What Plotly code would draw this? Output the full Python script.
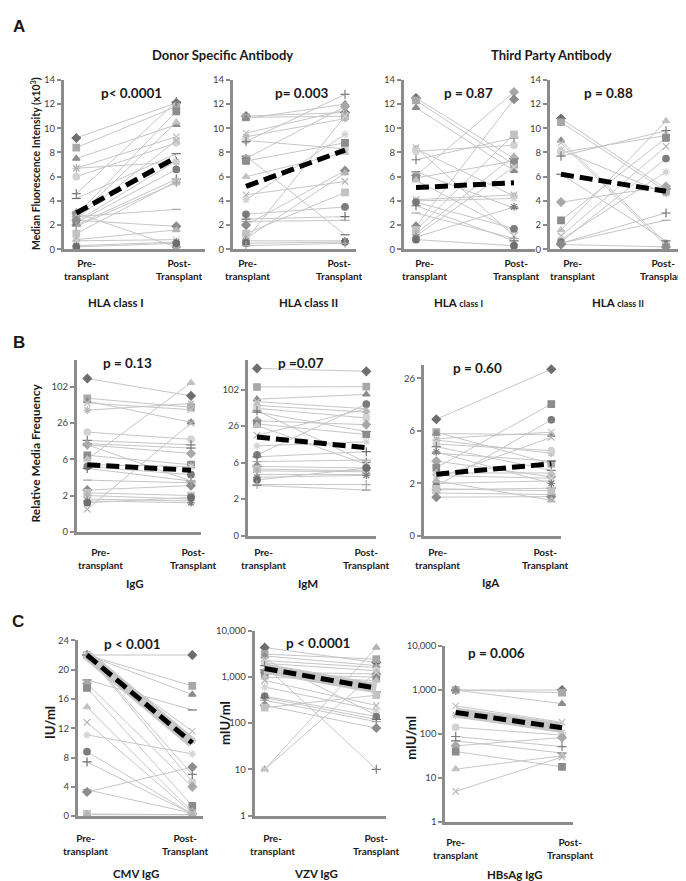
import numpy as np
import plotly.graph_objects as go

W, H = 686, 881

# ---------------- A: median fluorescence intensity (x10^3) ----------------
dsa1_pre = [9.2, 8.4, 7.5, 6.7, 6.7, 6.0, 4.6, 4.2, 3.0, 2.8, 2.6, 2.5, 2.3, 2.2, 2.0, 2.7, 2.4, 1.3, 0.8, 0.7, 0.3, 0.2, 1.9]
dsa1_post = [12.1, 11.8, 10.3, 9.3, 7.2, 8.8, 12.2, 7.9, 0.2, 11.4, 10.5, 9.0, 7.3, 6.6, 5.8, 3.3, 1.9, 5.6, 1.6, 0.8, 0.6, 0.5, 5.5]
dsa1_mean = [3.0, 7.6]

dsa2_pre = [11.0, 10.9, 10.8, 9.6, 9.3, 9.0, 8.9, 7.7, 7.5, 7.3, 6.0, 4.5, 4.1, 2.9, 2.5, 2.3, 2.0, 1.3, 0.9, 0.8, 0.7, 0.5, 0.3]
dsa2_post = [11.3, 11.0, 12.0, 11.5, 10.8, 8.3, 12.8, 1.2, 11.8, 8.8, 8.0, 5.6, 9.5, 3.5, 2.7, 2.4, 6.5, 4.7, 6.3, 11.0, 0.7, 0.6, 0.5]
dsa2_mean = [5.2, 8.2]

tpa1_pre = [12.5, 12.3, 11.7, 8.4, 8.3, 8.1, 7.4, 6.4, 6.1, 5.9, 5.7, 4.1, 4.0, 3.9, 3.6, 3.0, 1.9, 1.6, 1.3, 1.1, 1.0, 0.8]
tpa1_post = [7.5, 7.0, 6.5, 1.1, 4.4, 8.6, 9.2, 3.4, 13.0, 7.3, 1.5, 4.5, 4.2, 1.7, 0.7, 0.9, 12.4, 9.5, 7.7, 6.8, 3.5, 0.3]
tpa1_mean = [5.1, 5.5]

tpa2_pre = [10.8, 10.5, 9.0, 8.8, 8.2, 8.0, 7.7, 6.2, 3.9, 2.4, 1.6, 1.1, 0.8, 0.6, 0.5, 0.5, 0.4]
tpa2_post = [5.0, 4.8, 0.5, 0.3, 4.6, 9.4, 9.8, 0.7, 5.2, 9.2, 10.6, 8.5, 6.4, 7.5, 3.0, 2.4, 0.2]
tpa2_mean = [6.2, 4.8]

# ---------------- B: relative media frequency ----------------
b_tick_values = [0, 2, 6, 26, 102]
b_scale = [0, 2, 6, 26, 102, 400]   # equally spaced on the axis

igg_pre = [170, 78, 72, 68, 53, 21, 16.4, 14.6, 14, 8.2, 6, 1.24, 5.4, 5.2, 5.0, 3.7, 2.6, 2.3, 2.0, 1.8, 1.7, 1.6, 14]
igg_post = [83, 59, 27.5, 54, 67, 17, 14, 12.2, 9.2, 5.4, 135, 26, 5.2, 4.3, 3.6, 3.4, 3.1, 2.0, 1.8, 1.7, 1.6, 1.9, 3.6]
igg_mean = [5.4, 4.8]

igm_pre = [275, 123, 82, 77, 69, 63, 58, 55, 37, 30.6, 27.5, 21, 15.2, 10.2, 9.2, 6.6, 5.6, 5.3, 5.1, 4.7, 4.4, 4.1, 3.6, 3.5]
igm_post = [251, 126, 92, 62, 55, 43, 6.2, 23, 29, 21.4, 5.8, 62, 17.4, 72, 12, 7.4, 5.4, 5.1, 5.0, 4.7, 4.6, 5.4, 3.6, 3.0]
igm_mean = [20, 14.2]

iga_pre = [10.4, 5.9, 5.8, 5.4, 5.3, 5.0, 4.8, 4.3, 3.7, 3.2, 2.8, 2.4, 2.0, 1.9, 1.76, 1.64, 1.48, 1.8, 2.2, 2.6, 4.4]
iga_post = [39, 3.5, 5.7, 5.9, 4.3, 4.5, 3.0, 3.7, 2.5, 16.2, 2.8, 5.5, 2.2, 10.2, 1.82, 1.58, 1.5, 1.72, 1.36, 2.4, 2.0]
iga_mean = [2.7, 3.5]

# ---------------- C: vaccine titres ----------------
cmv_pre = [22.0, 22.0, 22.0, 22.0, 22.0, 22.0, 22.0, 18.6, 18.1, 17.5, 14.9, 12.8, 11.1, 8.8, 7.4, 3.6, 3.3, 0.3, 0.2]
cmv_post = [22.0, 17.8, 16.6, 11.6, 10.3, 4.7, 5.7, 14.5, 4.0, 1.4, 0.6, 0.4, 8.5, 0.3, 0.3, 0.4, 6.7, 0.2, 0.2]
cmv_mean = [22.0, 10.0]

vzv_pre = [4270, 3090, 2820, 2400, 2240, 1950, 1740, 1410, 1260, 1150, 980, 830, 600, 380, 355, 310, 240, 215, 10, 10]
vzv_post = [2040, 2400, 1740, 148, 1580, 1350, 10, 470, 1150, 980, 830, 240, 190, 138, 120, 107, 78, 400, 4270, 1260]
vzv_mean = [1510, 565]

hbs_pre = [1000, 1000, 1000, 436, 270, 142, 88, 70, 54, 40, 16, 5]
hbs_post = [1000, 870, 490, 185, 108, 95, 52, 37, 83, 18, 32, 30]
hbs_mean = [309, 139]

pre_lbl = "Pre-<br>transplant"
post_lbl = "Post-<br>Transplant"


def to_level(v):
    return np.interp(v, b_scale, range(len(b_scale)))


# x px: axis left, pre point, post point, axis right ; y px: top, bottom
panels = [
    dict(pre=dsa1_pre, post=dsa1_post, mean=dsa1_mean, kind="lin", yr=[0, 14], dt=2,
         xp=(56, 68.3, 168.3, 197), yp=(66.7, 238.3), lab=(78, 171, 244),
         title=("HLA class I", 108, 292), p=("p< 0.0001", 123, 80)),
    dict(pre=dsa2_pre, post=dsa2_post, mean=dsa2_mean, kind="lin", yr=[0, 14], dt=2,
         xp=(225, 238, 337, 348), yp=(66.7, 238.3), lab=(239, 331, 244),
         title=("HLA class II", 300, 292), p=("p= 0.003", 293, 80)),
    dict(pre=tpa1_pre, post=tpa1_post, mean=tpa1_mean, kind="lin", yr=[0, 14], dt=2,
         xp=(396, 408, 506, 527), yp=(66.7, 238.3), lab=(416, 508, 244),
         title=("HLA <span style='font-size:9px'>class I</span>", 450, 292), p=("p = 0.87", 460, 80)),
    dict(pre=tpa2_pre, post=tpa2_post, mean=tpa2_mean, kind="lin", yr=[0, 14], dt=2,
         xp=(542, 553, 658, 675), yp=(66.7, 238.3), lab=(564, 655, 244),
         title=("HLA <span style='font-size:9px'>class II</span>", 610, 292), p=("p = 0.88", 600, 80)),
    dict(pre=igg_pre, post=igg_post, mean=igg_mean, kind="lvl", yr=[0, 4.75],
         xp=(69, 79.3, 183, 193), yp=(350, 524.3), lab=(92, 185, 537),
         title=("IgG", 127, 577), p=("p = 0.13", 119, 353)),
    dict(pre=igm_pre, post=igm_post, mean=igm_mean, kind="lvl", yr=[0, 4.82],
         xp=(240, 249, 358.3, 368), yp=(350, 528.3), lab=(255, 358, 537),
         title=("IgM", 300, 577), p=("p =0.07", 293, 353)),
    dict(pre=iga_pre, post=iga_post, mean=iga_mean, kind="lvl", yr=[0, 3.26],
         xp=(416, 428.3, 543.3, 553), yp=(355, 528.7), lab=(430, 537, 537),
         title=("IgA", 483, 576), p=("p = 0.60", 469, 358)),
    dict(pre=cmv_pre, post=cmv_post, mean=cmv_mean, kind="lin", yr=[0, 24], dt=4,
         xp=(70, 79, 184.3, 195), yp=(634.3, 812.3), lab=(77, 177, 826),
         title=("CMV IgG", 128, 870), p=("p < 0.001", 125, 638), halo=True),
    dict(pre=vzv_pre, post=vzv_post, mean=vzv_mean, kind="log", yr=[0, 4],
         xp=(246.7, 256.7, 368.3, 378), yp=(624.3, 811.7), lab=(264, 368, 826),
         title=("VZV IgG", 308, 870), p=("p < 0.0001", 310, 637), halo=True),
    dict(pre=hbs_pre, post=hbs_post, mean=hbs_mean, kind="log", yr=[0, 4],
         xp=(437.3, 447.7, 554, 565), yp=(640, 818.3), lab=(448, 562, 830),
         title=("HBsAg IgG", 507, 871), p=("p = 0.006", 488, 647), halo=True),
]

symbols = ["diamond", "square", "triangle-up", "x-thin-open", "asterisk-open",
           "circle", "cross-thin-open", "line-ew-open"]
greys = ["#6e6e6e", "#a8a8a8", "#8c8c8c", "#c2c2c2", "#b4b4b4", "#d2d2d2", "#7c7c7c"]

FONT = "Lato, 'Open Sans', sans-serif"
AX = "#8c8c8c"

fig = go.Figure()
annotations = []


def ann(text, x, y, size, angle=0, family=FONT):
    annotations.append(dict(text=text, x=x / W, y=1 - y / H, xref="paper", yref="paper",
                            showarrow=False, textangle=angle, xanchor="center", yanchor="middle",
                            font=dict(family=family, size=size, color="#1a1a1a")))


for i, pn in enumerate(panels, start=1):
    xa, ya = ("x", "y") if i == 1 else (f"x{i}", f"y{i}")
    xl, xpre, xpost, xr = pn["xp"]
    yt, yb = pn["yp"]
    span = xpost - xpre
    xrange = [(xl - xpre) / span, (xr - xpre) / span]

    def tf(v):
        return list(to_level(np.array(v))) if pn["kind"] == "lvl" else list(v)

    for j, (a, b) in enumerate(zip(pn["pre"], pn["post"])):
        c = greys[j % len(greys)]
        fig.add_trace(go.Scatter(
            x=[0, 1], y=tf([a, b]), mode="lines+markers", xaxis=xa, yaxis=ya,
            line=dict(color="#c6c6c6", width=1), cliponaxis=False,
            marker=dict(symbol=symbols[j % len(symbols)], size=6.5, color=c,
                        line=dict(color=c, width=1.2)),
            showlegend=False, hoverinfo="skip"))
    if pn.get("halo"):
        fig.add_trace(go.Scatter(x=[0, 1], y=tf(pn["mean"]), mode="lines", xaxis=xa, yaxis=ya,
                                 line=dict(color="#c8c8c8", width=10), showlegend=False))
    fig.add_trace(go.Scatter(x=[0, 1], y=tf(pn["mean"]), mode="lines", xaxis=xa, yaxis=ya,
                             line=dict(color="black", width=5, dash="13px,6px"), showlegend=False))

    xkey = "xaxis" if i == 1 else f"xaxis{i}"
    ykey = "yaxis" if i == 1 else f"yaxis{i}"
    fig.layout[xkey] = dict(domain=[xl / W, xr / W], range=xrange, anchor=ya,
                            showgrid=False, zeroline=False, showticklabels=False, ticks="",
                            showline=True, linecolor=AX, linewidth=3, fixedrange=True)
    yax = dict(domain=[1 - yb / H, 1 - yt / H], anchor=xa, range=pn["yr"],
               showgrid=False, zeroline=False, showline=True, linecolor=AX, linewidth=3,
               ticks="outside", ticklen=4, tickwidth=2, tickcolor=AX,
               tickfont=dict(family=FONT, size=9.5, color="#404040"))
    if pn["kind"] == "lin":
        yax.update(tickmode="linear", tick0=0, dtick=pn["dt"])
    elif pn["kind"] == "lvl":
        yax.update(tickvals=list(range(len(b_tick_values))), ticktext=[str(v) for v in b_tick_values])
    else:
        yax.update(type="log", tickvals=[1, 10, 100, 1000, 10000],
                   ticktext=["1", "10", "100", "1,000", "10,000"])
    fig.layout[ykey] = yax

    lp, lq, ly = pn["lab"]
    for t, xx in ((pre_lbl, lp), (post_lbl, lq)):
        annotations.append(dict(text="<b>%s</b>" % t, x=xx / W, y=1 - ly / H, xref="paper", yref="paper",
                                showarrow=False, xanchor="center", yanchor="top",
                                font=dict(family=FONT, size=10, color="#1a1a1a")))
    ann("<b>%s</b>" % pn["title"][0], pn["title"][1], pn["title"][2], 11.5)
    ann("<b>%s</b>" % pn["p"][0], pn["p"][1], pn["p"][2], 13.5)

ann("<b>A</b>", 11, 13, 17, family="'Liberation Sans', Arial")
ann("<b>B</b>", 11, 333, 17, family="'Liberation Sans', Arial")
ann("<b>C</b>", 10, 615, 17, family="'Liberation Sans', Arial")
ann("<b>Donor Specific Antibody</b>", 214, 42, 13)
ann("<b>Third Party Antibody</b>", 543, 42, 13)
ann("<b>Median Fluorescence Intensity (x10<sup>3</sup>)</b>", 27, 152, 10.5, angle=-90)
ann("<b>Relative Media Frequency</b>", 27, 445, 12, angle=-90)
ann("<b>IU/ml</b>", 42, 718, 13, angle=-90)
ann("<b>mIU/ml</b>", 217, 718, 13, angle=-90)
ann("<b>mIU/ml</b>", 403, 733, 13, angle=-90)

fig.update_layout(width=W, height=H, margin=dict(l=0, r=0, t=0, b=0),
                  plot_bgcolor="white", paper_bgcolor="white",
                  annotations=annotations, showlegend=False)

fig.write_html("out.html")
